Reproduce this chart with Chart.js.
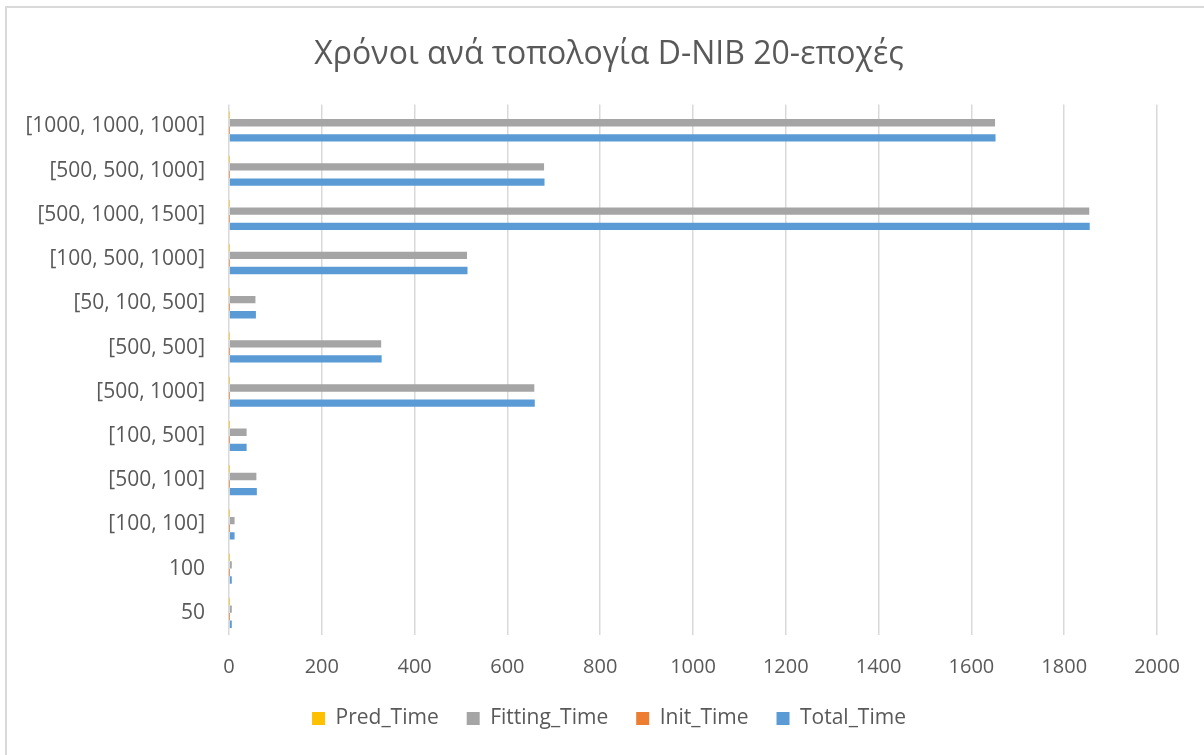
<!DOCTYPE html>
<html>
<head>
<meta charset="utf-8">
<script src="https://cdn.jsdelivr.net/npm/chart.js@4"></script>
<style>
  body { margin: 0; background: #fff; }
  #frame { position: absolute; left: 5px; top: 6px; width: 1300px; height: 900px;
           border-left: 2px solid #d9d9d9; border-top: 2px solid #d9d9d9; }
  #wrap { position: absolute; left: 0; top: 0; width: 1204px; height: 755px; }
</style>
</head>
<body>
<div id="frame"></div>
<div id="wrap"><canvas id="timesChart"></canvas></div>
<script>
// topologies, listed top to bottom as in the picture
const topologies = ['[1000, 1000, 1000]', '[500, 500, 1000]', '[500, 1000, 1500]', '[100, 500, 1000]',
    '[50, 100, 500]', '[500, 500]', '[500, 1000]', '[100, 500]', '[500, 100]', '[100, 100]', '100', '50'];

const predTime    = [0.3, 0.2, 0.3, 0.2, 0.1, 0.2, 0.2, 0.1, 0.1, 0.1, 0.1, 0.1];
const fittingTime = [1651, 679, 1854, 513, 57, 328, 658, 38, 59, 12, 6, 6];
const initTime    = [0.2, 0.2, 0.2, 0.2, 0.1, 0.1, 0.1, 0.1, 0.1, 0.1, 0.1, 0.1];
const totalTime   = [1652, 680, 1855, 514, 58, 329, 659, 38, 60, 12, 6, 6];

const xTicks = [0, 200, 400, 600, 800, 1000, 1200, 1400, 1600, 1800, 2000];

const textColor = '#595959';
Chart.defaults.font.family = "'Open Sans', sans-serif";
Chart.defaults.color = textColor;

const ctx = document.getElementById('timesChart').getContext('2d');
const chart = new Chart(ctx, {
    type: 'bar',
    data: {
        labels: topologies,
        datasets: [
            { label: 'Pred_Time', data: predTime, backgroundColor: '#FFC000' },
            { label: 'Fitting_Time', data: fittingTime, backgroundColor: '#A5A5A5' },
            { label: 'Init_Time', data: initTime, backgroundColor: '#ED7D31' },
            { label: 'Total_Time', data: totalTime, backgroundColor: '#5B9BD5' }
        ]
    },
    options: {
        indexAxis: 'y',
        responsive: true,
        maintainAspectRatio: false,
        animation: false,
        layout: { padding: { left: 20, right: 6, top: 0, bottom: 16 } },
        datasets: {
            bar: { categoryPercentage: 0.685, barPercentage: 0.97 }
        },
        scales: {
            x: {
                min: 0,
                max: 2000,
                afterBuildTicks: function(scale) {
                    scale.ticks = xTicks.map(v => ({ value: v }));
                },
                afterFit: function(scale) { scale.height = 45; },
                grid: { color: '#d9d9d9', lineWidth: 1.5, drawTicks: false },
                border: { display: false },
                ticks: {
                    padding: 20,
                    font: { size: 20 },
                    color: textColor,
                    callback: function(value) { return String(value); }
                }
            },
            y: {
                afterFit: function(scale) { scale.width = 209; },
                grid: { display: false, drawTicks: false },
                border: { display: false },
                ticks: { padding: 24, font: { size: 21 }, color: textColor }
            },
            // empty right-hand axis, only keeps room on the right of the plot
            yRight: {
                position: 'right',
                afterFit: function(scale) { scale.width = 41; },
                grid: { display: false, drawTicks: false },
                border: { display: false },
                ticks: { display: false }
            }
        },
        plugins: {
            title: {
                display: true,
                text: 'Χρόνοι ανά τοπολογία D-NIB 20-εποχές',
                color: textColor,
                font: { size: 32, weight: 'normal' },
                padding: { top: 36, bottom: 30 }
            },
            legend: {
                position: 'bottom',
                labels: {
                    boxWidth: 13,
                    boxHeight: 13,
                    padding: 28,
                    font: { size: 21 },
                    color: textColor
                }
            },
            tooltip: { enabled: false }
        }
    }
});
</script>
</body>
</html>
